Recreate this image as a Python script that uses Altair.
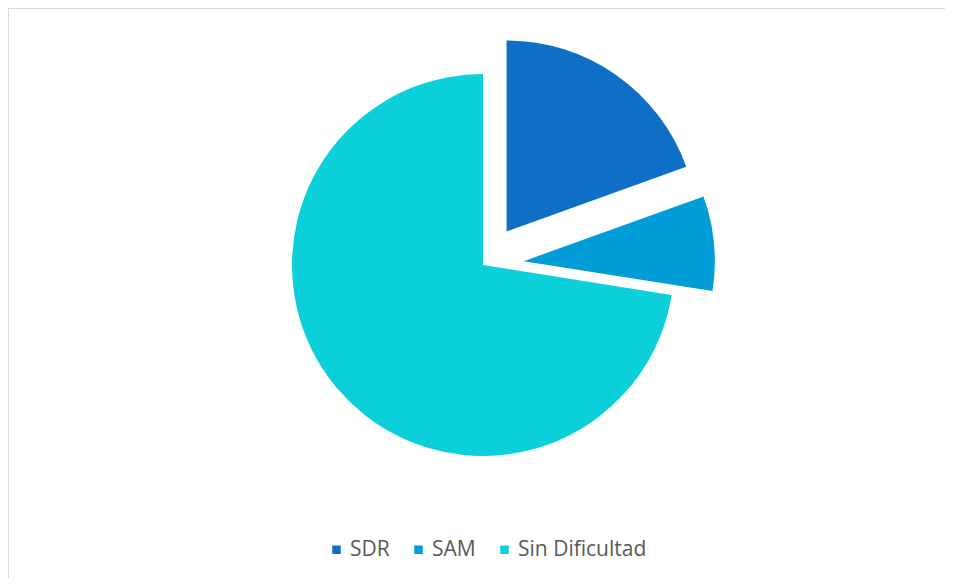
import altair as alt
import pandas as pd

categories = ["SDR", "SAM", "Sin Dificultad"]
values = [19.5, 8.0, 72.5]
colors = ["#0F6FC6", "#009DD9", "#0BD0D9"]

df = pd.DataFrame({"category": categories, "value": values, "order": list(range(len(categories)))})

W, H = 937, 570
CX, CY, R, OFF = 475, 257, 191, 41

base = alt.Chart(df).transform_joinaggregate(
    total="sum(value)"
).transform_window(
    cum="sum(value)", sort=[alt.SortField("order")], frame=[None, 0]
).transform_calculate(
    t0="(datum.cum - datum.value) / datum.total * 2 * PI",
    t1="datum.cum / datum.total * 2 * PI",
).transform_calculate(
    mid="(datum.t0 + datum.t1) / 2",
    off=f"datum.category == 'Sin Dificultad' ? 0 : {OFF}",
).transform_calculate(
    cx=f"{CX} + datum.off * sin(datum.mid)",
    cy=f"{CY} - datum.off * cos(datum.mid)",
)

pie = base.mark_arc(radius=R, stroke=None).encode(
    theta=alt.Theta("t0:Q", scale=None, stack=None),
    theta2="t1:Q",
    x=alt.X("cx:Q", scale=None),
    y=alt.Y("cy:Q", scale=None),
    color=alt.Color(
        "category:N",
        scale=alt.Scale(domain=categories, range=colors),
        sort=categories,
        legend=alt.Legend(
            title=None,
            orient="none",
            legendX=318,
            legendY=531,
            direction="horizontal",
            symbolType="square",
            symbolSize=72,
            symbolStrokeWidth=0,
            labelFont="Open Sans",
            labelFontSize=21,
            labelColor="#595959",
            labelOffset=3,
            columnPadding=18,
        ),
    ),
    order=alt.Order("order:Q"),
)

border_top = alt.Chart(df).mark_rule(color="#D9D9D9", strokeWidth=2).encode(
    x=alt.value(0), x2=alt.value(W), y=alt.value(0)
)
border_left = alt.Chart(df).mark_rule(color="#D9D9D9", strokeWidth=2).encode(
    x=alt.value(0), y=alt.value(0), y2=alt.value(H)
)

chart = alt.layer(border_top, border_left, pie).properties(
    width=W, height=H, padding=0, autosize=alt.AutoSizeParams(type="none")
).configure_view(stroke=None)

chart.save("out.html", embed_options={"renderer": "svg", "actions": False})
